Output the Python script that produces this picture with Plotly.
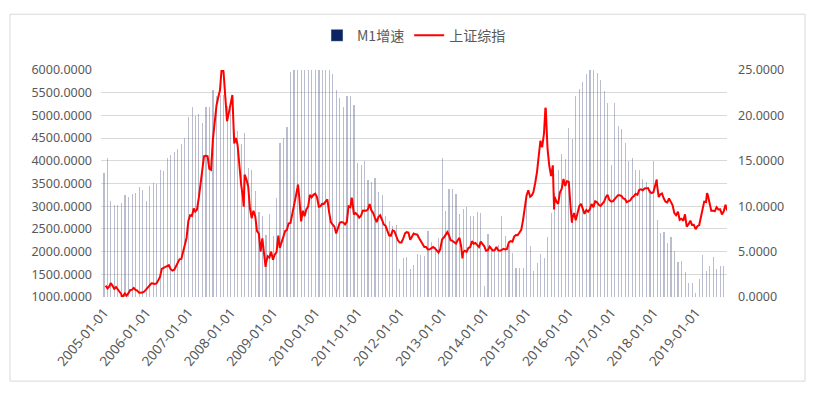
import pandas as pd
import plotly.graph_objects as go

# ---------------- data ----------------
m1_2005 = [13.7, 15.3, 10.6, 10.1, 10.1, 10.4, 11.2, 11.0, 11.3, 11.5, 12.1, 11.8]
m1_2006 = [10.6, 12.2, 12.6, 12.4, 14.0, 13.9, 15.3, 15.6, 16.0, 16.3, 16.8, 17.5]
m1_2007 = [19.8, 20.9, 19.9, 20.1, 19.2, 20.9, 20.9, 22.8, 22.1, 22.2, 22.2, 21.0]
m1_2008 = [20.7, 18.2, 18.3, 16.9, 18.1, 14.2, 14.0, 11.7, 9.4, 8.9, 6.8, 9.1]
m1_2009 = [6.7, 10.9, 17.0, 17.5, 18.7, 24.8, 26.4, 27.7, 29.5, 32.0, 34.6, 32.4]
m1_2010 = [39.0, 35.0, 29.9, 30.4, 29.9, 24.6, 22.8, 21.9, 20.9, 22.1, 22.1, 21.2]
m1_2011 = [14.8, 14.5, 15.0, 12.9, 12.7, 13.1, 11.6, 11.2, 8.9, 8.4, 7.8, 7.9]
m1_2012 = [3.1, 4.3, 4.4, 3.1, 3.5, 4.7, 4.6, 4.5, 7.3, 6.1, 5.5, 6.5]
m1_2013 = [15.3, 9.5, 11.9, 11.9, 11.3, 9.1, 9.7, 9.9, 8.9, 8.9, 9.4, 9.3]
m1_2014 = [1.2, 6.9, 5.4, 5.3, 5.7, 8.9, 6.7, 5.7, 4.8, 3.2, 3.2, 3.2]
m1_2015 = [10.6, 5.6, 2.9, 3.7, 4.7, 4.3, 6.6, 9.3, 11.4, 14.0, 15.7, 15.2]
m1_2016 = [18.6, 17.4, 22.1, 22.9, 23.7, 24.6, 25.4, 25.3, 24.7, 23.9, 22.7, 21.4]
m1_2017 = [14.5, 21.4, 18.8, 18.5, 17.0, 15.0, 15.3, 14.0, 14.0, 13.0, 12.7, 11.8]
m1_2018 = [15.0, 8.5, 7.1, 7.2, 6.0, 6.6, 5.1, 3.9, 4.0, 2.7, 1.5, 1.5]
m1_2019 = [0.4, 2.0, 4.6, 2.9, 3.4, 4.4, 3.1, 3.4, 3.4]

# Shanghai Composite: two readings per month (mid-month, month-end)
sse_2005 = [1250, 1191, 1230, 1306, 1250, 1181, 1220, 1159, 1110, 1060, 1020, 1080,
            1030, 1083, 1150, 1162, 1200, 1155, 1140, 1092, 1090, 1099, 1120, 1161]
sse_2006 = [1220, 1258, 1300, 1299, 1285, 1298, 1370, 1440, 1620, 1641, 1650, 1672,
            1700, 1612, 1580, 1601, 1680, 1752, 1830, 1837, 1980, 2099, 2300, 2675]
sse_2007 = [2800, 2786, 2950, 2881, 2920, 3183, 3500, 3841, 4100, 4109, 4100, 3820,
            3800, 4471, 4900, 5218, 5400, 5552, 6050, 5954, 5300, 4871, 5050, 5261]
sse_2008 = [5450, 4383, 4500, 4348, 3900, 3473, 3200, 3693, 3600, 3433, 2950, 2736,
            2900, 2775, 2450, 2397, 2000, 2293, 1900, 1729, 1900, 1871, 2000, 1821]
sse_2009 = [1930, 1991, 2350, 2082, 2200, 2373, 2450, 2477, 2620, 2632, 2800, 2959,
            3200, 3412, 3200, 2667, 2900, 2779, 2930, 2995, 3250, 3195, 3250, 3277]
sse_2010 = [3200, 2989, 3000, 3051, 3050, 3109, 3150, 2870, 2650, 2592, 2550, 2398,
            2500, 2637, 2650, 2639, 2600, 2655, 3000, 2979, 3150, 2820, 2850, 2808]
sse_2011 = [2750, 2791, 2900, 2905, 2900, 2928, 3050, 2911, 2850, 2743, 2650, 2762,
            2800, 2701, 2600, 2568, 2480, 2359, 2350, 2469, 2450, 2333, 2250, 2199]
sse_2012 = [2200, 2292, 2400, 2428, 2420, 2263, 2350, 2397, 2380, 2373, 2300, 2225,
            2170, 2103, 2100, 2048, 2050, 2086, 2100, 2069, 2020, 1980, 2050, 2269]
sse_2013 = [2310, 2385, 2430, 2366, 2250, 2237, 2200, 2178, 2250, 2301, 2100, 1979,
            2020, 1994, 2080, 2098, 2230, 2175, 2190, 2141, 2100, 2220, 2180, 2116]
sse_2014 = [2020, 2033, 2110, 2056, 2020, 2033, 2100, 2026, 2020, 2039, 2060, 2048,
            2060, 2202, 2230, 2217, 2330, 2364, 2360, 2420, 2480, 2683, 3000, 3235]
sse_2015 = [3350, 3210, 3240, 3310, 3500, 3748, 4100, 4442, 4300, 4612, 5150, 4277,
            3900, 3664, 3900, 3206, 3100, 3053, 3300, 3383, 3600, 3446, 3550, 3539]
sse_2016 = [3000, 2738, 2850, 2688, 2850, 3004, 3050, 2938, 2830, 2917, 2880, 2930,
            3050, 2979, 3110, 3085, 3030, 3005, 3060, 3100, 3200, 3250, 3140, 3104]
sse_2017 = [3110, 3159, 3200, 3242, 3240, 3223, 3170, 3155, 3090, 3117, 3130, 3192,
            3220, 3273, 3250, 3361, 3370, 3349, 3390, 3393, 3400, 3317, 3290, 3307]
sse_2018 = [3430, 3481, 3200, 3259, 3280, 3169, 3100, 3082, 3170, 3095, 3020, 2847,
            2800, 2876, 2700, 2725, 2680, 2821, 2550, 2603, 2680, 2588, 2590, 2494]
sse_2019 = [2560, 2585, 2750, 2941, 3100, 3091, 3250, 3078, 2900, 2899, 2890, 2979,
            2930, 2933, 2820, 2886, 3030, 2905]

# notable intra-month extremes
sse_peak_dates = ["2005-06-03", "2007-10-16", "2008-04-22", "2008-10-28", "2009-08-04",
                  "2010-11-11", "2013-06-25", "2015-06-12", "2015-08-26", "2016-01-27",
                  "2018-01-29", "2019-04-08"]
sse_peak_values = [1010, 6124, 2990, 1664, 3478, 3186, 1849, 5166, 2927, 2638, 3587, 3288]

x_tick_start = "2005-01-01"

# ---------------- assemble ----------------
m1_values = (m1_2005 + m1_2006 + m1_2007 + m1_2008 + m1_2009 + m1_2010 + m1_2011 +
             m1_2012 + m1_2013 + m1_2014 + m1_2015 + m1_2016 + m1_2017 + m1_2018 + m1_2019)
m1_dates = pd.date_range("2005-01-01", periods=len(m1_values), freq="MS")

sse_values_pairs = (sse_2005 + sse_2006 + sse_2007 + sse_2008 + sse_2009 + sse_2010 +
                    sse_2011 + sse_2012 + sse_2013 + sse_2014 + sse_2015 + sse_2016 +
                    sse_2017 + sse_2018 + sse_2019)
months = pd.date_range("2005-01-01", periods=len(sse_values_pairs) // 2, freq="MS")
sse_dates = []
for m in months:
    sse_dates.append(m + pd.Timedelta(days=14))
    sse_dates.append(m + pd.offsets.MonthEnd(0))
sse = pd.DataFrame({"d": sse_dates, "v": sse_values_pairs})
sse = pd.concat([sse, pd.DataFrame({"d": pd.to_datetime(sse_peak_dates), "v": sse_peak_values})])
sse = sse.sort_values("d")

fig = go.Figure()

fig.add_trace(go.Bar(
    x=m1_dates, y=m1_values, yaxis="y",
    width=10 * 24 * 3600 * 1000,
    marker=dict(color="rgba(90,98,138,0.42)", line=dict(width=0)),
    showlegend=False, name="M1增速", hoverinfo="x+y",
))
fig.add_trace(go.Bar(x=[None], y=[None], yaxis="y", name="M1增速",
                     marker=dict(color="#0c2461"), showlegend=True))
fig.add_trace(go.Scatter(
    x=sse["d"], y=sse["v"], yaxis="y2", mode="lines", name="上证综指",
    line=dict(color="#ff0000", width=2),
))

# page has 8px body margin: figure coords = page coords - 8
W, H = 807, 389
L, R, T, B = 93, 719, 57, 289
pw, ph = R - L, B - T

def px_x(x):
    return (x - L) / pw

def px_y(y):
    return (B - y) / ph

tick_font = dict(family="Noto Sans, sans-serif", size=12.5, color="#595959")

fig.update_layout(
    width=W, height=H,
    margin=dict(l=L, r=W - R, t=T, b=H - B, pad=0),
    paper_bgcolor="white", plot_bgcolor="white",
    font=dict(family="Noto Sans, Noto Sans CJK SC, sans-serif", size=12, color="#595959"),
    bargap=0,
    showlegend=True,
    legend=dict(orientation="h", x=0.5, xanchor="center", y=px_y(22), yanchor="middle",
                font=dict(family="Noto Sans CJK SC, sans-serif", size=14, color="#595959"),
                traceorder="normal"),
    xaxis=dict(
        type="date",
        range=["2004-12-06", "2019-09-28"],
        tick0=x_tick_start, dtick="M12", tickformat="%Y-%m-%d",
        tickangle=-50, showgrid=False, zeroline=False, showline=False,
        ticks="", tickfont=dict(family="Noto Sans, sans-serif", size=13.5, color="#595959"),
        ticklabelstandoff=4,
    ),
    yaxis=dict(
        side="right", range=[0, 25], dtick=5, tickformat=".4f",
        showgrid=False, zeroline=False, showline=False, ticks="",
        tickfont=tick_font, ticklabelstandoff=10,
    ),
    yaxis2=dict(
        side="left", overlaying="y", range=[1000, 6000], dtick=500, tickformat=".4f",
        showgrid=True, gridcolor="#d9d9d9", gridwidth=1, zeroline=False, showline=False,
        ticks="", tickfont=tick_font, ticklabelstandoff=8,
    ),
    shapes=[dict(type="rect", xref="paper", yref="paper",
                 x0=px_x(2), x1=px_x(797), y0=px_y(375), y1=px_y(0),
                 line=dict(color="#d9d9d9", width=1), fillcolor="rgba(0,0,0,0)",
                 layer="below")],
)

fig.write_html("out.html")
